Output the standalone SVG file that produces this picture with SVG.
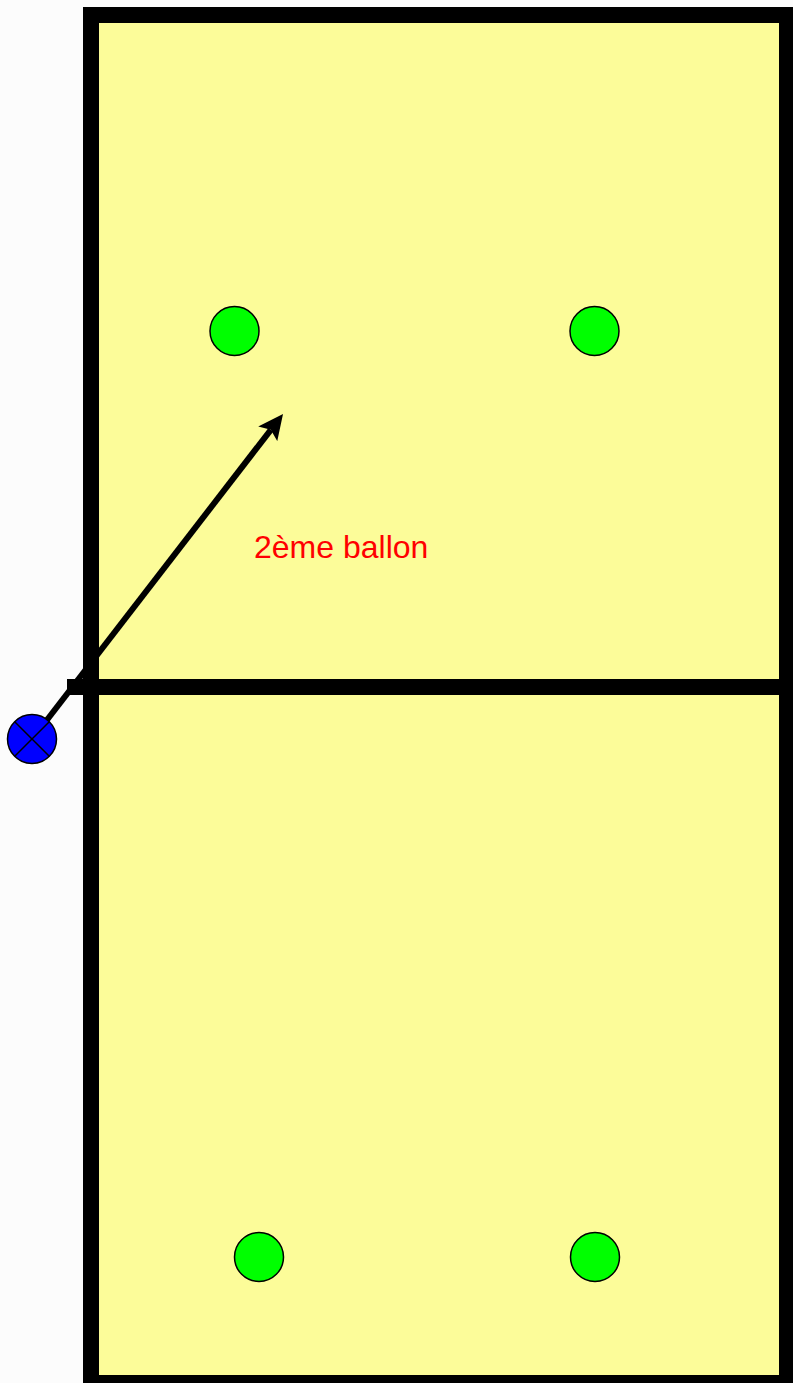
<svg xmlns="http://www.w3.org/2000/svg" width="793" height="1383" viewBox="0 0 793 1383">
<defs>
<style>
.player{fill:#00ff00;stroke:#000;stroke-width:1.5}
.label{font-family:"Liberation Sans",Arial,sans-serif;font-size:32px;fill:#ff0000}
</style>
<marker id="ah" markerWidth="25" markerHeight="24" refX="5" refY="12" orient="auto" markerUnits="userSpaceOnUse" viewBox="0 0 25 24">
<path d="M0,0 L25,12 L0,24 L5,12 Z" fill="#000"/>
</marker>
</defs>
<rect x="0" y="0" width="793" height="1383" fill="#fcfcfc"/>
<g id="court">
<rect x="91" y="15" width="696" height="1368" fill="#fcfc99" stroke="#000" stroke-width="16"/>
</g>
<g id="net">
<line x1="67" y1="687" x2="793" y2="687" stroke="#000" stroke-width="16"/>
</g>
<g id="connectors">
<line x1="40" y1="729" x2="270.8" y2="429.8" stroke="#000" stroke-width="6" marker-end="url(#ah)"/>
</g>
<g id="server">
<circle cx="32" cy="739" r="24.5" fill="#0000ff" stroke="#000" stroke-width="1.5"/>
<line x1="14.7" y1="721.7" x2="49.3" y2="756.3" stroke="#000" stroke-width="1.5"/>
<line x1="49.3" y1="721.7" x2="14.7" y2="756.3" stroke="#000" stroke-width="1.5"/>
</g>
<g id="p1"><circle class="player" cx="234.5" cy="331" r="24.5"/></g>
<g id="p2"><circle class="player" cx="594.5" cy="331" r="24.5"/></g>
<g id="p3"><circle class="player" cx="259" cy="1257" r="24.5"/></g>
<g id="p4"><circle class="player" cx="595" cy="1257" r="24.5"/></g>
<g id="label"><text class="label" x="254" y="558">2ème ballon</text></g>
</svg>
